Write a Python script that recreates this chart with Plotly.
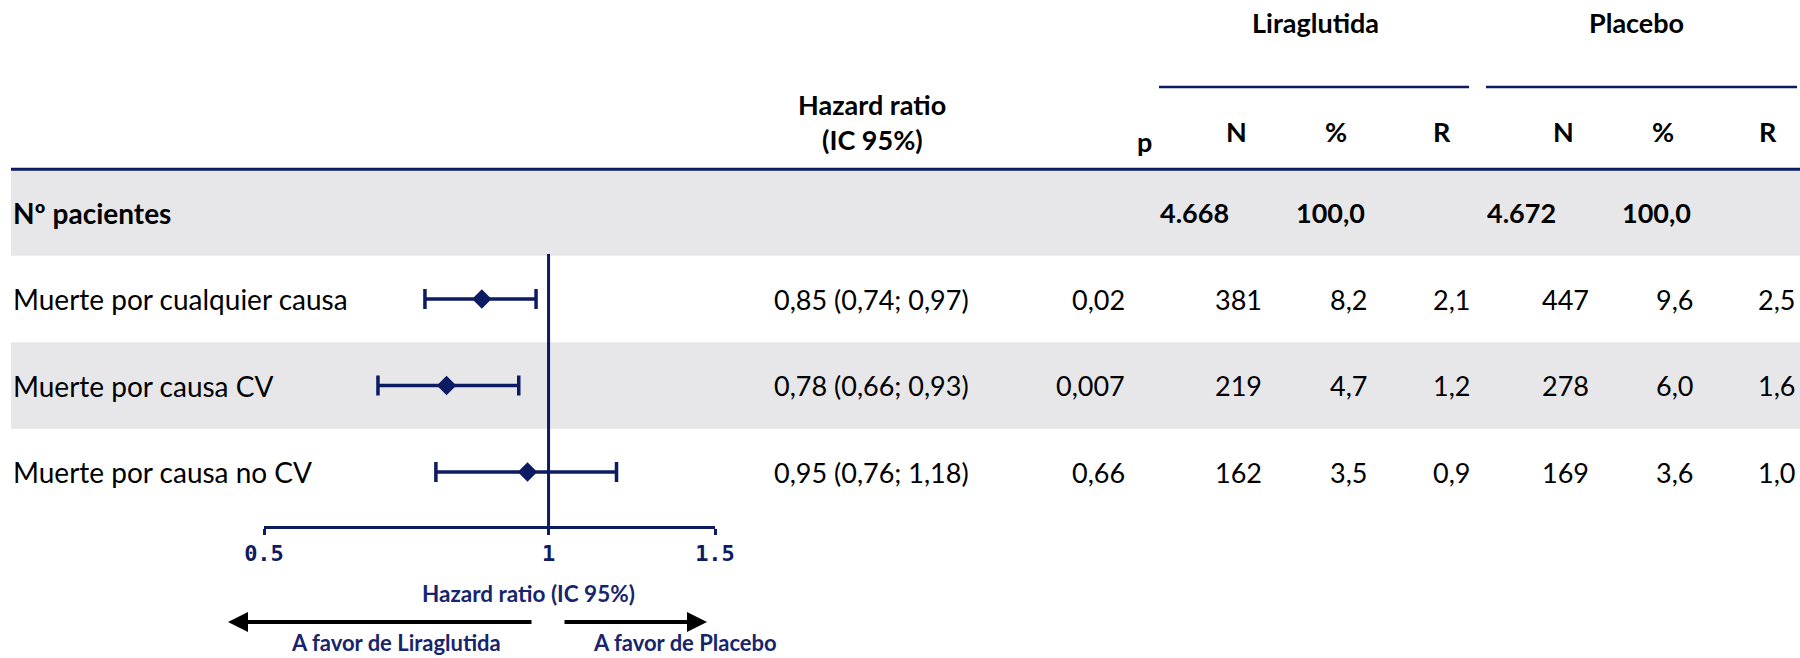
import math
import plotly.graph_objects as go

# ---- data -------------------------------------------------------------
outcomes = ["Muerte por cualquier causa", "Muerte por causa CV", "Muerte por causa no CV"]
hazard_ratio = [0.85, 0.78, 0.95]
ci_low = [0.74, 0.66, 0.76]
ci_high = [0.97, 0.93, 1.18]
p_values = ["0,02", "0,007", "0,66"]

lira_n = [381, 219, 162]
lira_pct = [8.2, 4.7, 3.5]
lira_rate = [2.1, 1.2, 0.9]
placebo_n = [447, 278, 169]
placebo_pct = [9.6, 6.0, 3.6]
placebo_rate = [2.5, 1.6, 1.0]

patients_lira = 4668
patients_placebo = 4672
patients_pct = [100.0, 100.0]

axis_ticks = [0.5, 1, 1.5]
axis_ticktext = ["0.5", "1", "1.5"]

# ---- styling ------------------------------------------------------------
W, H = 1800, 658
NAVY = "#0d1c62"
NAVY_TXT = "#17256c"
GRAY = "#e7e7ea"
FONT = "Lato, Carlito, Calibri, sans-serif"
ROW0, ROW_H = 212.5, 86.5  # centre of first row and row height (px)
BODY = 28
HEAD = 27


def px(x):
    return x / W


def py(y):
    return 1 - y / H


def dec(v, n=1):
    return f"{v:.{n}f}".replace(".", ",")


def thousands(v):
    return f"{v:,}".replace(",", ".")


rows = list(range(1, len(outcomes) + 1))

fig = go.Figure()

# forest plot: diamonds with CI whiskers
fig.add_trace(go.Scatter(
    x=hazard_ratio,
    y=rows,
    mode="markers",
    marker=dict(symbol="diamond", size=15, color=NAVY),
    error_x=dict(
        type="data",
        symmetric=False,
        array=[h - m for h, m in zip(ci_high, hazard_ratio)],
        arrayminus=[m - l for m, l in zip(hazard_ratio, ci_low)],
        color=NAVY,
        thickness=3.5,
        width=10,
    ),
    hoverinfo="skip",
    showlegend=False,
))

shapes = []
# grey banding
for i in (0, 2):
    shapes.append(dict(type="rect", xref="paper", yref="y", x0=px(11), x1=1,
                       y0=i - 0.5, y1=i + 0.5, fillcolor=GRAY, line=dict(width=0),
                       layer="below"))
# header rule
shapes.append(dict(type="line", xref="paper", yref="y", x0=px(11), x1=1,
                   y0=-0.5, y1=-0.5, line=dict(color=NAVY, width=3)))
# group rules
shapes.append(dict(type="line", xref="paper", yref="paper", x0=px(1159), x1=px(1469),
                   y0=py(87), y1=py(87), line=dict(color=NAVY, width=2.5)))
shapes.append(dict(type="line", xref="paper", yref="paper", x0=px(1486), x1=px(1797),
                   y0=py(87), y1=py(87), line=dict(color=NAVY, width=2.5)))
# line of no effect
shapes.append(dict(type="line", xref="x", yref="paper", x0=1, x1=1,
                   y0=py(254), y1=py(527), line=dict(color=NAVY, width=3)))

ann = []


def text(x, y, s, anchor="center", yref="paper", bold=False, size=BODY, color="black",
         family=FONT):
    ann.append(dict(x=x, y=y, xref="paper", yref=yref, text=s, showarrow=False,
                    xanchor=anchor, yanchor="middle",
                    font=dict(family=family, size=size, color=color,
                              weight="bold" if bold else "normal")))


# headers
text(px(1315), py(23), "Liraglutida", bold=True, size=HEAD)
text(px(1636), py(23), "Placebo", bold=True, size=HEAD)
text(px(872), py(105), "Hazard ratio", bold=True, size=HEAD)
text(px(872), py(140), "(IC 95%)", bold=True, size=HEAD)
text(px(1144), py(142), "p", bold=True, size=HEAD)
for xc, lab in zip([1236, 1336, 1442, 1563, 1663, 1768], ["N", "%", "R"] * 2):
    text(px(xc), py(131), lab, bold=True, size=HEAD)

# patients row
text(px(11), 0, "Nº pacientes", anchor="left", yref="y", bold=True, size=28)
text(px(1158), 0, thousands(patients_lira), anchor="left", yref="y", bold=True, size=HEAD)
text(px(1367), 0, dec(patients_pct[0]), anchor="right", yref="y", bold=True, size=HEAD)
text(px(1485), 0, thousands(patients_placebo), anchor="left", yref="y", bold=True, size=HEAD)
text(px(1693), 0, dec(patients_pct[1]), anchor="right", yref="y", bold=True, size=HEAD)

# outcome rows
for r, name, h, lo, hi, p, ln, lp, lr, pn, pp, pr in zip(
        rows, outcomes, hazard_ratio, ci_low, ci_high, p_values,
        lira_n, lira_pct, lira_rate, placebo_n, placebo_pct, placebo_rate):
    text(px(11), r, name, anchor="left", yref="y")
    text(px(871), r, f"{dec(h, 2)} ({dec(lo, 2)}; {dec(hi, 2)})", yref="y", size=27)
    text(px(1127), r, p, anchor="right", yref="y", size=27)
    text(px(1264), r, str(ln), anchor="right", yref="y", size=27)
    text(px(1369), r, dec(lp), anchor="right", yref="y", size=27)
    text(px(1472), r, dec(lr), anchor="right", yref="y", size=27)
    text(px(1591), r, str(pn), anchor="right", yref="y", size=27)
    text(px(1695), r, dec(pp), anchor="right", yref="y", size=27)
    text(px(1797), r, dec(pr), anchor="right", yref="y", size=27)

# axis caption and direction arrows
text(px(528), py(593), "Hazard ratio (IC 95%)", bold=True, size=22.5, color=NAVY_TXT)
text(px(396), py(642), "A favor de Liraglutida", bold=True, size=22, color=NAVY_TXT)
text(px(685), py(642), "A favor de Placebo", bold=True, size=22, color=NAVY_TXT)
ann.append(dict(x=px(228), y=py(622), xref="paper", yref="paper", text="",
                showarrow=True, ax=533 - 228, ay=0, arrowhead=2, arrowsize=1,
                arrowwidth=4, arrowcolor="black"))
ann.append(dict(x=px(707), y=py(622), xref="paper", yref="paper", text="",
                showarrow=True, ax=563 - 707, ay=0, arrowhead=2, arrowsize=1,
                arrowwidth=4, arrowcolor="black"))

fig.update_layout(
    width=W, height=H, autosize=False,
    margin=dict(l=0, r=0, t=0, b=0, pad=0),
    paper_bgcolor="white", plot_bgcolor="rgba(0,0,0,0)",
    shapes=shapes, annotations=ann,
    xaxis=dict(
        type="log",
        domain=[px(264), px(715)],
        range=[math.log10(0.5), math.log10(1.5)],
        tickvals=axis_ticks, ticktext=axis_ticktext,
        tickfont=dict(family="DejaVu Sans Mono, monospace",
                      size=22, color=NAVY, weight="bold"),
        showline=True, linecolor=NAVY, linewidth=3,
        ticks="outside", ticklen=6, tickwidth=3, tickcolor=NAVY,
        ticklabelstandoff=0,
        showgrid=False, zeroline=False,
        anchor="free", position=py(527),
        automargin=False,
    ),
    yaxis=dict(
        domain=[0, 1],
        range=[(H - ROW0) / ROW_H, -ROW0 / ROW_H],
        visible=False, showgrid=False, zeroline=False,
        automargin=False,
    ),
)

fig.write_html("out.html")
